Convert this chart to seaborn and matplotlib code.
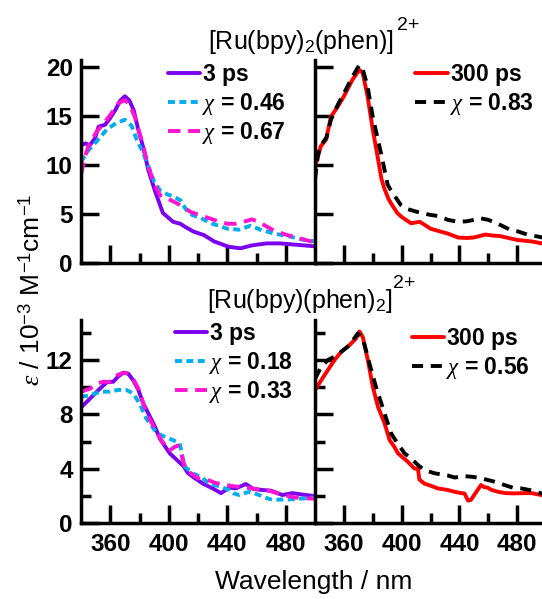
import matplotlib
matplotlib.use("Agg")
import matplotlib.pyplot as plt
import seaborn as sns
import pandas as pd
from matplotlib.ticker import FixedLocator

# ---------------- data ----------------
# Top row: [Ru(bpy)2(phen)]2+
tl_3ps_wl = [340, 343, 346, 349.5, 352, 356.5, 360, 363.5, 367, 370, 373, 376, 379, 382.7, 386,
             390.7, 396, 403, 408, 411, 417, 424, 431, 441, 449, 457, 467, 476, 488, 500]
tl_3ps_val = [12.0, 12.2, 12.0, 12.7, 13.9, 14.1, 14.8, 15.6, 16.6, 17.0, 16.6, 15.6, 13.7, 11.7, 9.5,
              7.3, 5.1, 4.2, 4.0, 3.7, 3.2, 2.85, 2.2, 1.65, 1.5, 1.8, 2.0, 2.0, 1.85, 1.7]

tl_x046_wl = [340, 345, 350.7, 357.5, 364.4, 370, 374.6, 378, 382, 387, 390, 394, 399, 403, 408, 412,
              416, 421.5, 430, 440, 448, 456, 462.6, 472, 483, 491, 500]
tl_x046_val = [10.3, 11.5, 12.4, 13.6, 14.3, 14.6, 14.0, 12.6, 11.4, 9.5, 8.3, 7.4, 7.0, 6.8, 6.4, 5.4,
               4.9, 4.6, 4.0, 3.5, 3.4, 3.8, 3.4, 3.0, 2.7, 2.4, 2.2]

tl_x067_wl = [340, 342.7, 345, 350.7, 356.4, 361, 365.6, 370, 373.5, 377, 381.5, 386, 389.5, 394, 400,
              405.5, 411, 415, 419, 425, 433, 440, 446, 451, 457, 463, 466, 472, 481, 490, 496, 500]
tl_x067_val = [9.0, 10.8, 11.9, 13.4, 14.4, 15.3, 16.3, 16.6, 16.1, 14.8, 12.5, 9.9, 8.3, 6.9, 6.5,
               6.1, 5.6, 5.2, 5.0, 4.7, 4.3, 4.0, 4.0, 4.2, 4.45, 4.1, 3.8, 3.3, 2.85, 2.5, 2.25, 2.1]

tr_300ps_wl = [340, 341, 344, 347.7, 351, 356, 360, 366, 370.7, 373, 376.4, 380, 383.3, 386, 388, 391,
               393, 397, 400, 406.5, 412.5, 418, 420, 427, 432, 439, 445, 450, 458, 463, 468, 480,
               490, 497, 500]
tr_300ps_val = [10.1, 10.3, 11.9, 12.6, 14.9, 16.0, 17.0, 18.7, 19.7, 19.4, 17.0, 13.6, 10.9, 8.6, 7.6,
                6.5, 6.0, 5.1, 4.7, 4.05, 4.2, 3.7, 3.5, 3.2, 3.0, 2.6, 2.55, 2.6, 2.9, 2.8, 2.75,
                2.35, 2.2, 2.0, 1.95]

tr_x083_wl = [340, 342, 344, 348, 351, 356, 360, 366, 370.7, 373, 376.4, 380, 385.7, 390.3, 392.6,
              399.5, 404, 411, 420, 425, 432, 439, 445, 455, 460, 466, 475, 481, 487, 496, 500]
tr_x083_val = [8.5, 11.0, 12.0, 12.8, 14.6, 16.2, 17.3, 19.0, 20.2, 19.8, 18.0, 14.9, 11.2, 8.0, 7.4,
               5.9, 5.5, 5.2, 4.9, 4.8, 4.4, 4.2, 4.25, 4.55, 4.4, 4.05, 3.4, 3.2, 2.9, 2.65, 2.5]

# Bottom row: [Ru(bpy)(phen)2]2+
bl_3ps_wl = [340, 346.3, 353, 357.6, 362, 365.5, 369, 372.3, 375.8, 379.2, 382.6, 386, 390.5, 394,
             400.7, 405, 408, 410, 413, 416.5, 423.3, 430, 435.7, 441.3, 446, 452.7, 458, 464, 470,
             477.6, 484.4, 491, 500]
bl_3ps_val = [8.5, 9.18, 9.9, 10.36, 10.4, 10.8, 11.07, 11.0, 10.5, 9.8, 8.8, 8.08, 7.1, 6.2,
              5.13, 4.7, 4.4, 4.2, 3.7, 3.4, 2.9, 2.55, 2.2, 2.6, 2.55, 2.87, 2.5, 2.43, 2.38,
              2.06, 2.2, 2.1, 1.98]

bl_x018_wl = [340, 346.3, 353, 359.8, 365.5, 371, 375.6, 380, 384.6, 390.3, 394, 403, 407.5, 410.9,
              416.5, 422, 427.8, 434.7, 441.3, 444, 448, 454.9, 461.8, 466, 470.9, 475.3, 486.6,
              497.8, 500]
bl_x018_val = [9.3, 9.4, 9.67, 9.67, 9.8, 9.8, 9.55, 8.8, 7.7, 6.85, 6.5, 6.1, 5.86, 4.15,
               3.65, 3.4, 2.9, 2.7, 2.43, 2.2, 2.06, 2.3, 2.06, 1.87, 1.7, 1.72, 1.75, 1.87, 1.85]

bl_x033_wl = [340, 346.3, 350.8, 355.3, 360, 365, 369, 372, 375.8, 379.2, 384.9, 391.6, 395, 400,
              404, 406, 408, 410, 412, 416, 420, 426.6, 432, 439, 445, 451, 457, 463, 468.5, 477,
              486.6, 497.8, 500]
bl_x033_val = [9.67, 9.9, 10.28, 10.4, 10.4, 10.9, 11.07, 11.0, 10.6, 9.9, 8.08, 6.7, 6.1, 5.3,
               5.6, 5.7, 5.3, 4.5, 3.9, 3.6, 3.3, 3.17, 2.95, 2.8, 2.7, 2.65, 2.55, 2.45, 2.38, 2.1,
               1.87, 1.8, 1.8]

br_300ps_wl = [340, 340.7, 344.2, 348.9, 353.5, 358.1, 363.9, 368.5, 370.8, 373.1, 376.6, 380.1,
               383.6, 388.2, 391.7, 395, 397.5, 404.4, 408.9, 411.3, 412.3, 415.8, 420, 425, 432,
               436.6, 441.3, 443.5, 446, 448, 450.5, 455, 457, 459.6, 462, 466.7, 472, 478, 484,
               490, 496.6, 500]
br_300ps_val = [9.8, 9.9, 10.5, 11.26, 12.0, 12.6, 13.1, 13.6, 14.1, 13.7, 12.0, 10.0, 8.56, 7.34,
                6.1, 5.6, 5.13, 4.5, 4.0, 4.0, 3.2, 2.9, 2.75, 2.55, 2.43, 2.3, 2.2, 2.18, 1.65,
                1.7, 2.1, 2.8, 2.65, 2.6, 2.45, 2.3, 2.2, 2.18, 2.2, 2.2, 2.06, 1.95]

br_x056_wl = [340, 344.2, 348.9, 353.5, 358.1, 363.9, 369.6, 373.1, 377.7, 382.3, 388.2, 392.7,
              395.1, 402, 406.5, 411.3, 415.7, 422.9, 431.9, 436.7, 443.6, 449, 455.2, 459.6,
              464.4, 471.2, 477, 482.7, 490, 496.6, 500]
br_x056_val = [10.6, 11.5, 12.0, 12.25, 12.6, 13.1, 13.96, 13.6, 11.75, 10.0, 8.07, 6.6, 6.2,
               5.13, 4.76, 4.27, 3.9, 3.66, 3.5, 3.35, 3.45, 3.4, 3.3, 3.17, 3.04, 2.8, 2.6, 2.55,
               2.4, 2.18, 2.15]

title_top = r"[Ru(bpy)$_2$(phen)]"
title_bot = r"[Ru(bpy)(phen)$_2$]"
charge = "2+"
ylabel = r"$\varepsilon$ / 10$^{-3}$ M$^{-1}$cm$^{-1}$"
xlabel = "Wavelength / nm"

# ---------------- style ----------------
sns.set_style("ticks")
plt.rcParams.update({
    "font.family": ["Liberation Sans", "DejaVu Sans"],
    "mathtext.fontset": "custom",
    "mathtext.rm": "Liberation Sans",
    "mathtext.it": "Liberation Serif:italic",
    "mathtext.bf": "Liberation Sans:bold",
    "lines.scale_dashes": False,
    "axes.edgecolor": "black",
    "xtick.color": "black",
    "ytick.color": "black",
    "text.color": "black",
})

PURPLE = "#7B00F0"
CYAN = "#00AEEF"
MAGENTA = "#FF14D2"
RED = "#FF0000"
BLACK = "#000000"
LW = 2.8
SW = 2.5

fig = plt.figure(figsize=(5.42, 5.99), dpi=100)
W, H = 542.0, 599.0


def mk_ax(x0, x1, ytop, ybot):
    return fig.add_axes([x0 / W, 1 - ybot / H, (x1 - x0) / W, (ybot - ytop) / H])


ax_tl = mk_ax(81, 315, 60, 263)
ax_tr = mk_ax(315, 546, 60, 263)
ax_bl = mk_ax(81, 315, 320, 523)
ax_br = mk_ax(315, 546, 320, 523)


def draw(ax, wl, val, color, label, dashes=None):
    df = pd.DataFrame({"wl": wl, "val": val})
    sns.lineplot(data=df, x="wl", y="val", ax=ax, color=color, lw=LW,
                 sort=False, estimator=None, legend=False)
    line = ax.lines[-1]
    if dashes is not None:
        line.set_dashes(dashes)
    line.set_label(label)
    return line


DOT = (5.0, 3.2)
DASH_M = (9.0, 5.5)
DASH_K = (8.0, 5.5)

# trailing "$\ $" keeps every legend row laid out by mathtext, so rows are evenly spaced
h_tl = [draw(ax_tl, tl_3ps_wl, tl_3ps_val, PURPLE, r"3 ps$\ $"),
        draw(ax_tl, tl_x046_wl, tl_x046_val, CYAN, r"$\chi$ = 0.46", DOT),
        draw(ax_tl, tl_x067_wl, tl_x067_val, MAGENTA, r"$\chi$ = 0.67", DASH_M)]
h_tr = [draw(ax_tr, tr_300ps_wl, tr_300ps_val, RED, r"300 ps$\ $"),
        draw(ax_tr, tr_x083_wl, tr_x083_val, BLACK, r"$\chi$ = 0.83", DASH_K)]
h_bl = [draw(ax_bl, bl_3ps_wl, bl_3ps_val, PURPLE, r"3 ps$\ $"),
        draw(ax_bl, bl_x018_wl, bl_x018_val, CYAN, r"$\chi$ = 0.18", DOT),
        draw(ax_bl, bl_x033_wl, bl_x033_val, MAGENTA, r"$\chi$ = 0.33", DASH_M)]
h_br = [draw(ax_br, br_300ps_wl, br_300ps_val, RED, r"300 ps$\ $"),
        draw(ax_br, br_x056_wl, br_x056_val, BLACK, r"$\chi$ = 0.56", DASH_K)]

for ax in (ax_tl, ax_tr, ax_bl, ax_br):
    ax.set_xlim(340, 500)
    ax.set_xlabel("")
    ax.set_ylabel("")
    ax.set_facecolor("none")
    for s in ("top", "right"):
        ax.spines[s].set_visible(False)
    for s in ("left", "bottom"):
        ax.spines[s].set_linewidth(SW)
    ax.xaxis.set_major_locator(FixedLocator([360, 400, 440, 480]))
    ax.xaxis.set_minor_locator(FixedLocator([380, 420, 460]))
    ax.tick_params(which="major", direction="in", length=13, width=SW)
    ax.tick_params(which="minor", direction="in", length=7, width=SW)
    ax.tick_params(axis="y", which="major", pad=6, labelsize=17.5)
    ax.tick_params(axis="x", which="major", pad=7, labelsize=17.5)
    ax.tick_params(top=False, right=False)

for ax in (ax_tl, ax_tr):
    ax.set_ylim(0, 20.7)
    ax.yaxis.set_major_locator(FixedLocator([0, 5, 10, 15, 20]))
    ax.tick_params(axis="x", labelbottom=False)
for ax in (ax_bl, ax_br):
    ax.set_ylim(0, 14.95)
    ax.yaxis.set_major_locator(FixedLocator([0, 4, 8, 12]))
    ax.yaxis.set_minor_locator(FixedLocator([2, 6, 10, 14]))
for ax in (ax_tr, ax_br):
    ax.tick_params(axis="y", labelleft=False)

for ax in (ax_tl, ax_tr, ax_bl, ax_br):
    for lab in ax.get_xticklabels() + ax.get_yticklabels():
        lab.set_fontweight("bold")

leg_kw = dict(frameon=False, loc="upper left", borderpad=0, borderaxespad=0,
              handlelength=1.4, handletextpad=0.1, labelspacing=0.14,
              prop={"size": 16.5, "weight": "bold"})
ax_tl.legend(handles=h_tl, bbox_to_anchor=(0.37, 0.99), **leg_kw)
ax_tr.legend(handles=h_tr, bbox_to_anchor=(0.435, 0.99), **leg_kw)
ax_bl.legend(handles=h_bl, bbox_to_anchor=(0.40, 0.997), **leg_kw)
ax_br.legend(handles=h_br, bbox_to_anchor=(0.42, 0.972), **leg_kw)

# titles with a raised charge
fig.text(301 / W, 1 - 42 / H, title_top, ha="center", va="center", fontsize=18)
fig.text(397 / W, 1 - 25 / H, charge, ha="left", va="center", fontsize=14)
fig.text(300 / W, 1 - 301 / H, title_bot, ha="center", va="center", fontsize=18)
fig.text(393 / W, 1 - 284 / H, charge, ha="left", va="center", fontsize=14)

fig.text(32 / W, 1 - 290 / H, ylabel, ha="center", va="center", rotation=90, fontsize=19)
fig.text(314 / W, 1 - 582 / H, xlabel, ha="center", va="center", fontsize=19)

fig.savefig("out.png", dpi=100, facecolor="white")
